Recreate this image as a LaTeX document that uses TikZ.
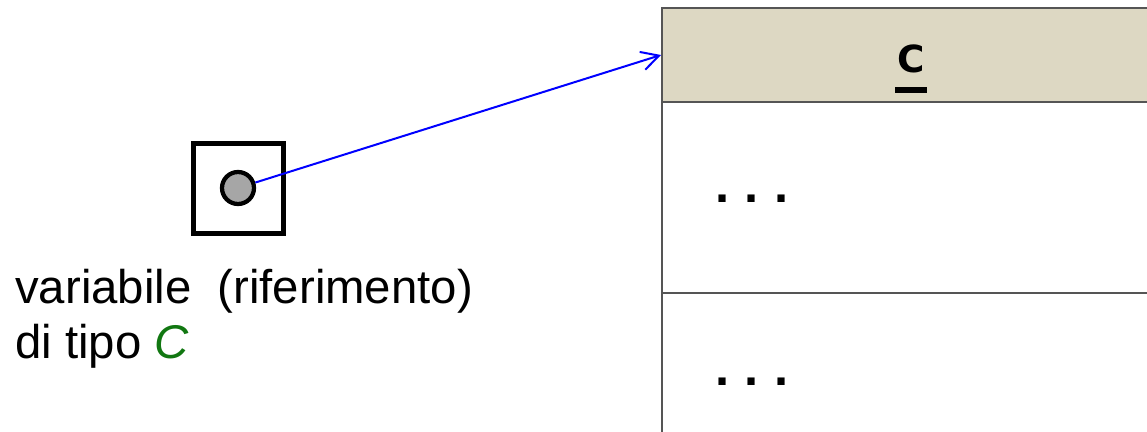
\documentclass[tikz,border=0pt]{standalone}
\usepackage{fontspec}
\setmainfont{Liberation Sans}
\newfontfamily\dejavu{DejaVu Sans}
\usetikzlibrary{arrows.meta}
\definecolor{hdrfill}{HTML}{DDD8C3}
\definecolor{clsline}{HTML}{555555}
\definecolor{dotgray}{HTML}{A6A6A6}
\definecolor{typegreen}{HTML}{117711}
\definecolor{refblue}{HTML}{0000FF}
\tikzset{
  section/.style={draw=clsline, line width=1.5pt, anchor=north west, inner sep=0pt, minimum width=380pt},
  varbox/.style={draw=black, line width=3.75pt, minimum size=67.5pt, inner sep=0pt},
  refdot/.style={circle, draw=black, line width=3.2pt, fill=dotgray, minimum size=24pt, inner sep=0pt},
  reflink/.style={draw=refblue, line width=1.5pt, -{Straight Barb[length=13pt, width=14pt, line width=1.5pt]}},
  lbl/.style={font=\fontsize{35.5}{41.25}\selectfont, inner sep=0pt},
  dots/.style={font=\fontsize{38}{40}\selectfont\bfseries, inner sep=0pt, anchor=center}
}
\begin{document}
\begin{tikzpicture}[x=0.75pt, y=-0.75pt]
\useasboundingbox (0,0) rectangle (1147,432);
\begin{scope}
\clip (0,0) rectangle (1147,432);
\node[section, fill=hdrfill, minimum height=70.5pt] (hdr) at (661,7) {};
\node[section, minimum height=143.25pt] (body1) at (661,101) {};
\node[section, minimum height=111pt] (body2) at (661,292) {};
\end{scope}
\node[font=\dejavu\bfseries\fontsize{28}{30}\selectfont, inner sep=0pt, anchor=base] (cname) at (911,72) {C};
\fill (895,87) rectangle (927,93);
\node[dots] (d1) at (752,199) {.\kern 11.5pt.\kern 11.5pt.};
\node[dots] (d2) at (752,382) {.\kern 11.5pt.\kern 11.5pt.};
\node[varbox] (var) at (238,188) {};
\node[refdot] (ptr) at (238,188) {};
\draw[reflink] (ptr) -- (hdr.west);
\node[lbl, anchor=north west, align=left] (label) at (15,269) {variabile\ \ (riferimento)\\di tipo \textcolor{typegreen}{\itshape C}};
\end{tikzpicture}
\end{document}
